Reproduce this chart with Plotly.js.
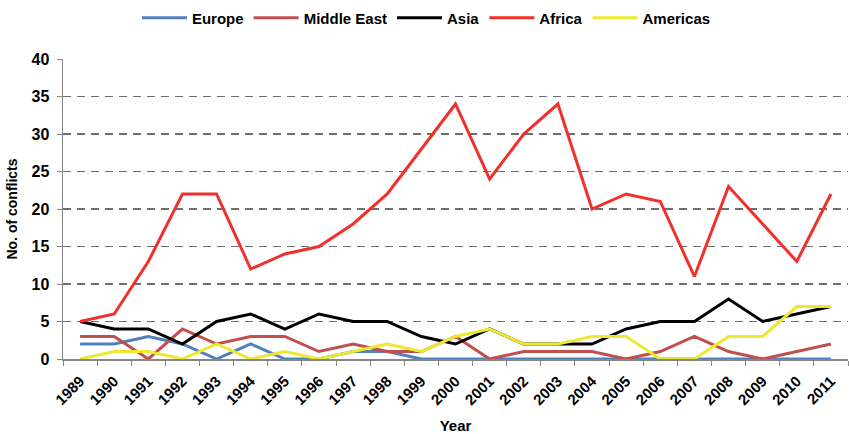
<!DOCTYPE html>
<html><head><meta charset="utf-8">
<script src="https://cdn.plot.ly/plotly-3.0.1.min.js"></script>
<style>html,body{margin:0;padding:0;background:#fff}#chart{width:849px;height:434px}</style>
</head><body><div id="chart"></div>
<script>
const years = ['1989','1990','1991','1992','1993','1994','1995','1996','1997','1998','1999','2000','2001','2002','2003','2004','2005','2006','2007','2008','2009','2010','2011'];
const europe     = [2,2,3,2,0,2,0,0,1,1,0,0,0,0,0,0,0,0,0,0,0,0,0];
const middleEast = [3,3,0,4,2,3,3,1,2,1,1,3,0,1,1,1,0,1,3,1,0,1,2];
const asia       = [5,4,4,2,5,6,4,6,5,5,3,2,4,2,2,2,4,5,5,8,5,6,7];
const africa     = [5,6,13,22,22,12,14,15,18,22,28,34,24,30,34,20,22,21,11,23,18,13,22];
const americas   = [0,1,1,0,2,0,1,0,1,2,1,3,4,2,2,3,3,0,0,3,3,7,7];
const yTicks = [0,5,10,15,20,25,30,35,40];

const FONT = 'Liberation Sans, Arial, sans-serif';
function tr(name, y, color){
  return {type:'scatter', mode:'lines', name:name, x:years, y:y,
          line:{color:color, width:3}, hoverinfo:'skip'};
}
const data = [
  tr('Europe', europe, '#4F81BD'),
  tr('Middle East', middleEast, '#C0504D'),
  tr('Asia', asia, '#000000'),
  tr('Africa', africa, '#F0302A'),
  tr('Americas', americas, '#EEE830')
];
const layout = {
  width:849, height:434,
  margin:{l:63, r:1, t:59, b:75},
  paper_bgcolor:'#ffffff', plot_bgcolor:'#ffffff',
  font:{family:FONT, color:'#000', size:14},
  showlegend:true,
  legend:{orientation:'h', x:0.463, xanchor:'center', y:1.137, yanchor:'middle',
          font:{family:FONT, size:15, weight:'bold'},
          itemwidth:45, tracegroupgap:0, bgcolor:'rgba(0,0,0,0)'},
  xaxis:{type:'category', range:[-0.5, 22.5], tickangle:-45,
         tickfont:{family:FONT, size:15, weight:'bold'},
         ticks:'outside', ticklen:5, tickcolor:'#868686', tickson:'boundaries',
         ticklabelstandoff:6,
         showline:true, linecolor:'#868686', linewidth:1.5, showgrid:false, zeroline:false,
         title:{text:'<b>Year</b>', font:{family:FONT, size:15}, standoff:16}},
  yaxis:{range:[0,40], tickvals:yTicks, ticktext:yTicks.map(String),
         tickfont:{family:FONT, size:16, weight:'bold'},
         showline:true, linecolor:'#868686', linewidth:1.5,
         showgrid:true, gridcolor:'#6e6e6e', gridwidth:1.2, griddash:'8px,6px',
         zeroline:false, ticks:'outside', ticklen:5, tickcolor:'#868686',
         ticklabelstandoff:4,
         title:{text:'<b>No. of conflicts</b>', font:{family:FONT, size:14}, standoff:10}}
};
Plotly.newPlot('chart', data, layout, {displayModeBar:false, staticPlot:true});
</script></body></html>
